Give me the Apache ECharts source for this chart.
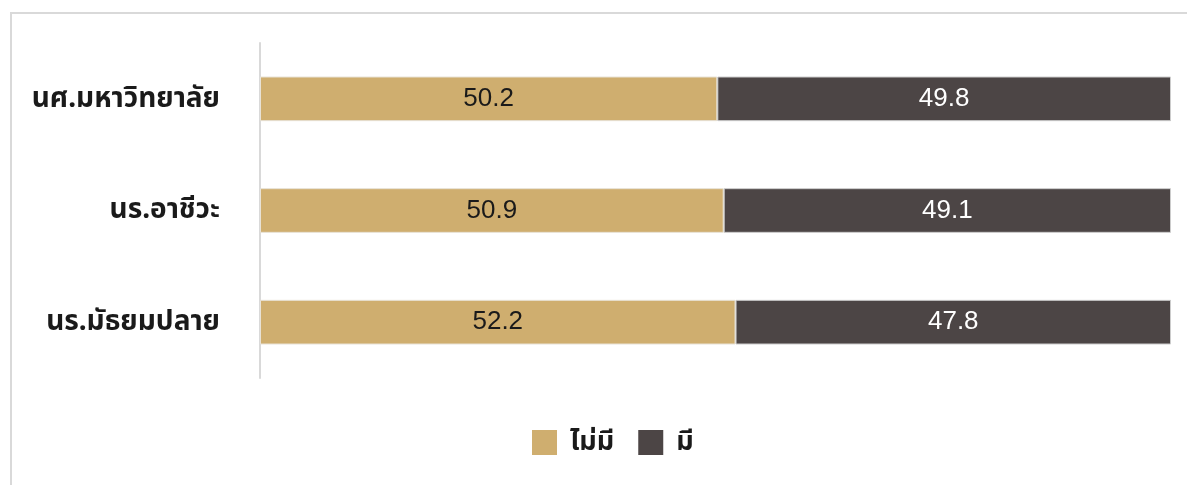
<!DOCTYPE html>
<html><head><meta charset="utf-8">
<script src="https://cdn.jsdelivr.net/npm/echarts@6/dist/echarts.min.js"></script>
<style>
html,body{margin:0;padding:0;background:#fff;}
#frame{position:absolute;left:10px;top:12px;width:1190px;height:490px;border:2px solid #d9d9d9;box-sizing:border-box;}
#c{position:absolute;left:0;top:0;width:1187px;height:485px;}
</style></head>
<body>
<div id="frame"></div>
<div id="c"></div>
<script>
const categories = ['นร.มัธยมปลาย', 'นร.อาชีวะ', 'นศ.มหาวิทยาลัย'];
const seriesNames = ['ไม่มี', 'มี'];
const noValues = [52.2, 50.9, 50.2];
const yesValues = [47.8, 49.1, 49.8];
const colors = ['#cfae6f', '#4c4545'];
const FONT = '"Noto Sans", "Noto Sans Thai", "Tahoma", sans-serif';
const NUMFONT = '"Liberation Sans", Arial, sans-serif';

const chart = echarts.init(document.getElementById('c'));
chart.setOption({
  animation: false,
  textStyle: {fontFamily: FONT},
  grid: {left: 260, right: 16, top: 43, bottom: 107, containLabel: false},
  legend: {
    data: seriesNames, bottom: 24, left: 527,
    itemWidth: 25, itemHeight: 25, itemGap: 24, icon: 'rect',
    itemStyle: {borderWidth: 0},
    textStyle: {fontSize: 27, fontWeight: 'bold', color: '#1a1a1a', fontFamily: FONT, padding: [0, 0, 0, 8]}
  },
  xAxis: {type: 'value', min: 0, max: 100, show: false},
  yAxis: {
    type: 'category', data: categories,
    axisLine: {show: true, lineStyle: {color: '#d9d9d9', width: 2}},
    axisTick: {show: false},
    axisLabel: {fontSize: 28, fontWeight: 'bold', color: '#1a1a1a', margin: 40, fontFamily: FONT}
  },
  series: [
    {name: seriesNames[0], type: 'bar', stack: 't', data: noValues, barWidth: '40%',
     itemStyle: {color: colors[0], borderColor: '#e8e2d6', borderWidth: 1},
     label: {show: true, position: 'inside', fontSize: 26, color: '#1a1a1a', fontFamily: NUMFONT}},
    {name: seriesNames[1], type: 'bar', stack: 't', data: yesValues, barWidth: '40%',
     itemStyle: {color: colors[1], borderColor: '#cccccc', borderWidth: 1},
     label: {show: true, position: 'inside', fontSize: 26, color: '#ffffff', fontFamily: NUMFONT}}
  ]
});
</script>
</body></html>
